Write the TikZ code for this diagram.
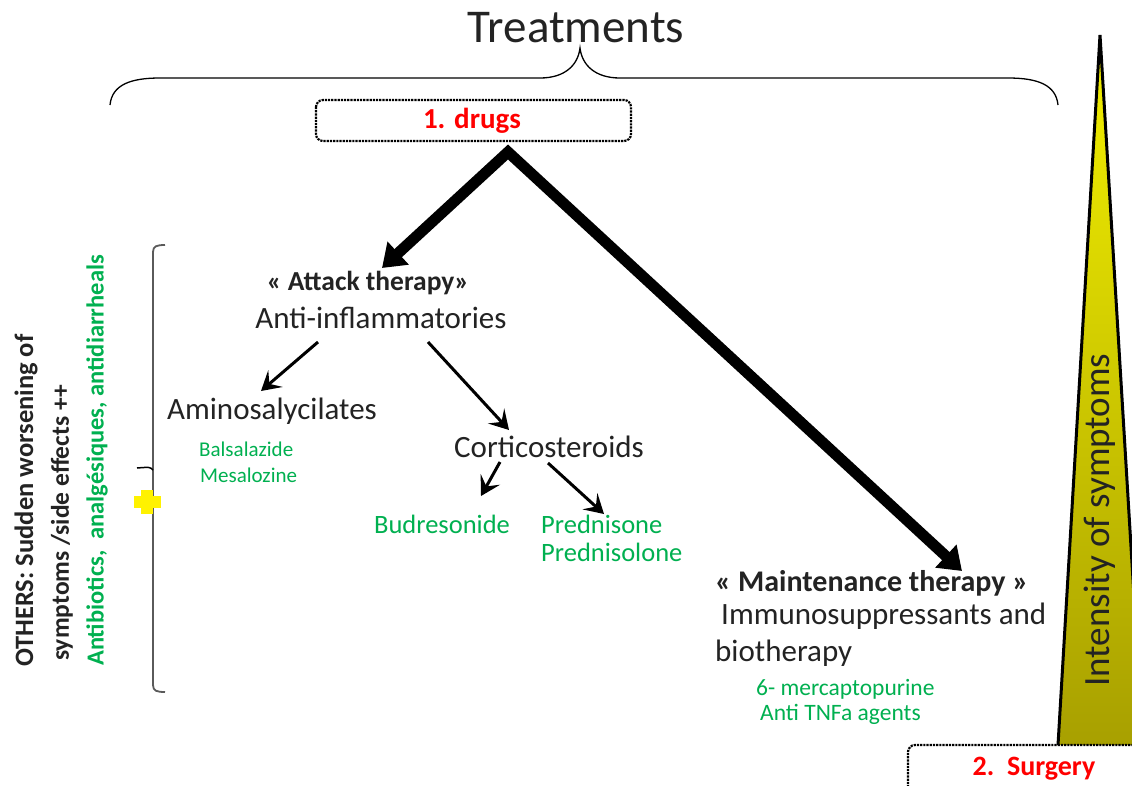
\documentclass[tikz,border=0pt]{standalone}
\usepackage{fontspec}
\setmainfont{Carlito}
\usetikzlibrary{arrows.meta}
\definecolor{tgreen}{RGB}{0,176,80}
\definecolor{tred}{RGB}{255,0,0}
\definecolor{ttext}{RGB}{35,35,35}
\definecolor{tolive}{RGB}{168,160,0}
\definecolor{tyel}{RGB}{235,230,0}
\definecolor{bgrey}{RGB}{90,90,90}
\begin{document}
\begin{tikzpicture}[x=1pt,y=-1pt,
  txt/.style={inner sep=0pt,text=ttext,font=\fontsize{31}{37}\selectfont},
  grn/.style={inner sep=0pt,text=tgreen,font=\fontsize{21}{26}\selectfont},
  grnbig/.style={inner sep=0pt,text=tgreen,font=\fontsize{26.5}{28}\selectfont},
  bld/.style={inner sep=0pt,text=ttext,font=\bfseries\fontsize{29}{34}\selectfont},
  redt/.style={inner sep=0pt,text=tred,font=\bfseries\fontsize{29}{34}\selectfont},
  side/.style={inner sep=0pt,rotate=90,anchor=west,font=\bfseries\fontsize{26.5}{30}\selectfont},
  dotbox/.style={draw=black,densely dotted,line width=2.2pt,rounded corners=7pt},
  thick arrow/.style={line width=11pt,line join=miter,{Triangle[length=22pt,width=30pt]}-{Triangle[length=22pt,width=30pt]}},
  thin arrow/.style={line width=3pt,-{Stealth[length=19pt,width=22pt,inset=8pt]}}]
\useasboundingbox (0,0) rectangle (1132,785);
\clip (0,0) rectangle (1132,785);
\fill[white] (0,0) rectangle (1132,785);

% title and brace
\node[inner sep=0pt,text=ttext,font=\fontsize{47}{52}\selectfont] (title) at (576,28) {Treatments};
\draw[line width=1.3pt] (110,105) .. controls (112,85) and (130,78) .. (160,78)
  -- (540,78) .. controls (565,78) and (578,65) .. (580,48)
  .. controls (582,65) and (595,78) .. (620,78)
  -- (1008,78) .. controls (1038,78) and (1056,85) .. (1058,105);

% drugs box
\draw[dotbox] (316,100) rectangle (631,141);
\node[redt] (drugs) at (472,121) {1. drugs};

% intensity triangle
\shade[top color=tyel!60!yellow, middle color=tyel, bottom color=tolive]
  (1058,745) -- (1100,35) -- (1143,745) -- cycle;
\draw[line width=3pt,line join=miter] (1058,745) -- (1100,35) -- (1143,745);
\node[inner sep=0pt,rotate=90,text=ttext,font=\fontsize{37}{40}\selectfont] (intens) at (1100,520) {Intensity of symptoms};

% surgery box
\draw[dotbox] (908,800) -- (908,745) -- (1150,745);
\node[redt,font=\bfseries\fontsize{28}{32}\selectfont] (surgery) at (1034,769) {2.\ \ Surgery};

% main nodes
\node[bld,font=\bfseries\fontsize{27.5}{32}\selectfont] (attack) at (368,283) {« Attack therapy»};
\node[txt] (antiinf) at (381,318) {Anti-inflammatories};
\node[txt] (amino) at (272,411) {Aminosalycilates};
\node[grn,align=left,anchor=west] (balsa) at (199,462) {Balsalazide\\\hspace*{1pt}Mesalozine};
\node[txt] (cortico) at (549,447) {Corticosteroids};
\node[grnbig] (budre) at (442,524) {Budresonide};
\node[grnbig,align=left,anchor=west] (predn) at (541,538) {Prednisone\\Prednisolone};
\node[bld,font=\bfseries\fontsize{30}{34}\selectfont,anchor=west] (maint) at (715,583) {« Maintenance therapy »};
\node[txt,align=left,anchor=west] (immuno) at (715,635) {\hspace*{6pt}Immunosuppressants and\\biotherapy};
\node[grn,font=\fontsize{23.5}{25}\selectfont,align=left,anchor=west] (mercap) at (756,702) {6- mercaptopurine\\\hspace*{4pt}Anti TNFa agents};

% thick arrows
\coordinate (apex) at (508,152);
\coordinate (atip) at (382,268);
\coordinate (mtip) at (962,571);
\draw[thick arrow] (atip) -- (apex) -- (mtip);

% thin arrows
\draw[thin arrow] (318,342) -- (261,391);
\draw[thin arrow] (428,342) -- (509,430);
\draw[thin arrow] (500,462) -- (481,496);
\draw[thin arrow] (548,463) -- (604,514);

% left bracket
\draw[bgrey,line width=1.8pt] (165,245) .. controls (157,245) and (153,246) .. (153,252)
  -- (153,685) .. controls (153,691) and (157,692) .. (165,692);
\draw[black,line width=1.5pt] (153,470) .. controls (150,467) .. (137,468);
% yellow plus
\fill[yellow] (141,490) rectangle (153,514);
\fill[yellow] (134,496) rectangle (161,508);

% rotated side texts
\node[side,text=ttext] (others) at (26,667) {OTHERS: Sudden worsening of};
\node[side,text=ttext,font=\bfseries\fontsize{25.5}{30}\selectfont] (sympt) at (62,661) {symptoms /side effects ++};
\node[side,text=tgreen,font=\bfseries\fontsize{24.5}{30}\selectfont] (antib) at (97,666) {Antibiotics,\ \ analgésiques, antidiarrheals};
\end{tikzpicture}
\end{document}
